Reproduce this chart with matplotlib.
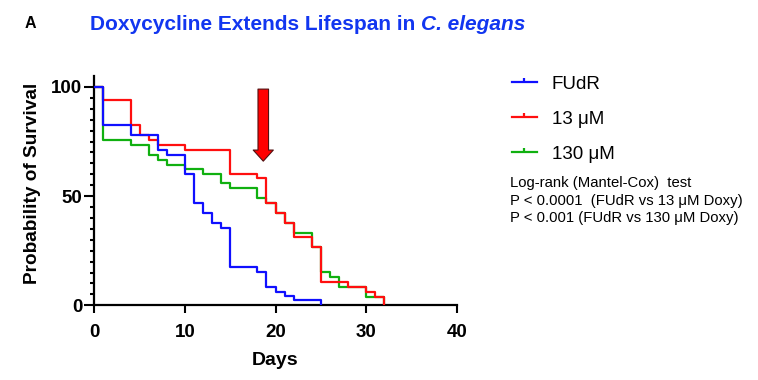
import matplotlib
matplotlib.use("Agg")
import matplotlib.pyplot as plt
from matplotlib.lines import Line2D
from matplotlib.path import Path

plt.rcParams['font.family'] = ['Liberation Sans', 'DejaVu Sans']

# ---- data (Kaplan-Meier steps, % survival) ----
fudr_days = [0, 1, 4, 7, 8, 10, 11, 12, 13, 14, 15, 18, 19, 20, 21, 22, 25]
fudr_surv = [100, 82.5, 78.2, 71.3, 69.0, 60.0, 46.8, 42.2, 37.6, 35.6, 17.7, 15.4, 8.5, 6.2, 4.3, 2.2, 0]

doxy13_days = [0, 1, 4, 5, 6, 7, 10, 15, 18, 19, 20, 21, 22, 24, 25, 28, 30, 31, 32]
doxy13_surv = [100, 93.8, 82.5, 78.2, 75.9, 73.6, 71.3, 60.1, 58.3, 46.8, 42.2, 37.6, 31.5, 26.9, 10.8, 8.5, 6.2, 4.0, 0]

doxy130_days = [0, 1, 4, 6, 7, 8, 10, 12, 14, 15, 18, 19, 20, 21, 22, 24, 25, 26, 27, 30, 32]
doxy130_surv = [100, 75.9, 73.6, 69.0, 66.7, 64.4, 62.4, 60.1, 56.0, 53.7, 49.1, 46.8, 42.2, 37.6, 33.3, 26.9, 15.4, 13.1, 8.5, 4.0, 0]

series_labels = ['FUdR', '13 μM', '130 μM']
series_colors = ['#1010ff', '#ff0f0f', '#10b010']
x_ticks = [0, 10, 20, 30, 40]
y_ticks = [0, 50, 100]
arrow_day = 18.65
arrow_from, arrow_to = 99, 66

stats_lines = ['Log-rank (Mantel-Cox)  test',
               'P < 0.0001  (FUdR vs 13 μM Doxy)',
               'P < 0.001 (FUdR vs 130 μM Doxy)']

title_main = 'Doxycycline Extends Lifespan in '
title_species = 'C. elegans'

fig = plt.figure(figsize=(7.58, 3.80), dpi=100)
ax = fig.add_axes([94.3 / 758, 1 - 305.3 / 380, (456.7 - 94.3) / 758, (305.3 - 76.0) / 380])

lw = 1.6
ax.step(doxy130_days, doxy130_surv, where='post', color=series_colors[2], lw=lw, zorder=2)
ax.step(doxy13_days, doxy13_surv, where='post', color=series_colors[1], lw=lw, zorder=3)
ax.step(fudr_days, fudr_surv, where='post', color=series_colors[0], lw=lw, zorder=4)

ax.set_xlim(0, 40)
ax.set_ylim(0, 105)
ax.set_xticks(x_ticks)
ax.set_yticks(y_ticks)
ax.set_yticks(range(0, 105, 5), minor=True)
ax.tick_params(axis='x', which='major', width=1.5, length=5.8, labelsize=13.5, pad=7.5)
ax.tick_params(axis='y', which='major', width=1.5, length=7.2, labelsize=13.5, pad=1.5)
ax.tick_params(axis='y', which='minor', width=1.5, length=3)
for lab in ax.get_xticklabels() + ax.get_yticklabels():
    lab.set_fontweight('bold')
for s in ['top', 'right']:
    ax.spines[s].set_visible(False)
for s in ['left', 'bottom']:
    ax.spines[s].set_linewidth(1.6)

ax.set_xlabel('Days', fontsize=14, fontweight='bold', labelpad=8)
ax.set_ylabel('Probability of Survival', fontsize=13.7, fontweight='bold')
ax.yaxis.set_label_coords(-0.146, 0.533)

ax.annotate('', xy=(arrow_day, arrow_to), xytext=(arrow_day, arrow_from),
            arrowprops=dict(arrowstyle='simple,head_length=0.8,head_width=1.45,tail_width=0.76',
                            mutation_scale=10, fc='#ff0000', ec='#501010', lw=0.8,
                            shrinkA=0, shrinkB=0), zorder=5)

tick_marker = Path([(0, 0), (0, 1)])
handles = [Line2D([0], [0], color=c, lw=1.6, marker=tick_marker, markersize=6,
                  markeredgewidth=1.6, markeredgecolor=c) for c in series_colors]
fig.legend(handles, series_labels, loc='upper left', bbox_to_anchor=(511.7 / 758, 1 - 75.5 / 380),
           frameon=False, fontsize=13.5, handlelength=1.33, handletextpad=0.8,
           labelspacing=0.96, borderpad=0, borderaxespad=0)

fig.text(510 / 758, 1 - 200.5 / 380, '\n'.join(stats_lines), fontsize=10.7, va='center', ha='left',
         linespacing=1.3)

fig.text(25 / 758, 1 - 27.5 / 380, 'A', fontsize=11.5, fontweight='bold', va='baseline')
t1 = fig.text(90 / 758, 1 - 29.5 / 380, title_main,
              fontsize=15, fontweight='bold', color='#1236f0', va='baseline')
renderer = fig.canvas.get_renderer()
bb = t1.get_window_extent(renderer)
fig.text(bb.x1 / fig.bbox.width, 1 - 29.5 / 380, title_species,
         fontsize=15, fontweight='bold', fontstyle='italic', color='#1236f0', va='baseline')

fig.savefig('out.png', dpi=100)
